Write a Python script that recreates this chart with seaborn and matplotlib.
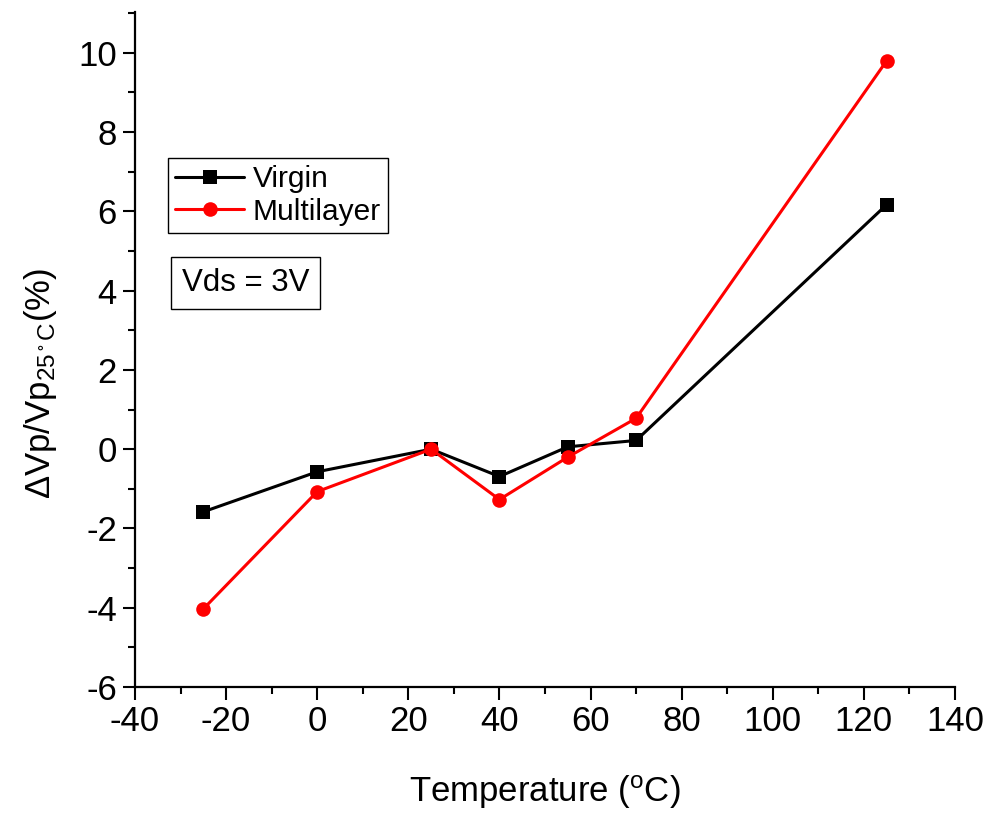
import matplotlib
matplotlib.use("Agg")
import matplotlib.pyplot as plt
from matplotlib.ticker import MultipleLocator
import seaborn as sns
import pandas as pd

# Temperature sweep (°C) and relative pinch-off voltage change (%) at Vds = 3 V
temperature = [-25, 0, 25, 40, 55, 70, 125]
virgin = [-1.58, -0.57, 0.0, -0.69, 0.06, 0.22, 6.17]
multilayer = [-4.03, -1.07, 0.0, -1.27, -0.20, 0.78, 9.80]
series_names = ["Virgin", "Multilayer"]

df = pd.DataFrame({
    "Temperature": temperature * 2,
    "dVp": virgin + multilayer,
    "Sample": [series_names[0]] * len(temperature) + [series_names[1]] * len(temperature),
})

sns.set_style("ticks")
plt.rcParams["font.family"] = ["Liberation Sans", "DejaVu Sans"]
plt.rcParams["mathtext.fontset"] = "custom"
plt.rcParams["mathtext.rm"] = "Liberation Sans"
plt.rcParams["mathtext.it"] = "Liberation Sans"
plt.rcParams["mathtext.default"] = "regular"
plt.rcParams["axes.unicode_minus"] = False
plt.rcParams["text.color"] = "black"
plt.rcParams["axes.labelcolor"] = "black"

fig = plt.figure(figsize=(9.89, 8.13), dpi=100)
ax = fig.add_axes([135 / 989, 1 - 687 / 813, 820 / 989, 675 / 813])

sns.lineplot(
    data=df, x="Temperature", y="dVp", hue="Sample", style="Sample",
    palette={"Virgin": "black", "Multilayer": "red"},
    markers={"Virgin": "s", "Multilayer": "o"},
    dashes=False, markersize=10.5, markeredgewidth=0, linewidth=2.2,
    ax=ax,
)

ax.set_xlim(-40, 140)
ax.set_ylim(-6, 11.03)
ax.xaxis.set_major_locator(MultipleLocator(20))
ax.xaxis.set_minor_locator(MultipleLocator(10))
ax.yaxis.set_major_locator(MultipleLocator(2))
ax.yaxis.set_minor_locator(MultipleLocator(1))

sns.despine(ax=ax)
for side in ("left", "bottom"):
    ax.spines[side].set_linewidth(1.6)
    ax.spines[side].set_color("black")
ax.tick_params(which="major", direction="out", length=9, width=1.5, labelsize=25, pad=4,
               colors="black", labelcolor="black")
ax.tick_params(which="minor", direction="out", length=5, width=1.5, colors="black")

ax.set_xlabel(r"Temperature ($^{\rm o}$C)", fontsize=25)
ax.xaxis.set_label_coords(0.5, -0.128)
ax.set_ylabel(r"$\Delta$Vp/Vp$_{25\,^{\circ}\,{\rm C}}$(%)", fontsize=25)
ax.yaxis.set_label_coords(-0.093, 0.45)

leg = ax.legend(
    loc="upper left", bbox_to_anchor=(0.040, 0.784), borderaxespad=0,
    fontsize=21.5, frameon=True, fancybox=False, handlelength=2.3,
    handletextpad=0.3, labelspacing=0.15, borderpad=0.25,
)
leg.get_frame().set_edgecolor("black")
leg.get_frame().set_linewidth(1.0)
leg.get_frame().set_alpha(1)

ax.text(0.135, 0.599, "Vds = 3V", transform=ax.transAxes, ha="center", va="center",
        fontsize=22.5, bbox=dict(boxstyle="square,pad=0.35", fc="white", ec="black", lw=1.0))

fig.savefig("out.png", dpi=100)
